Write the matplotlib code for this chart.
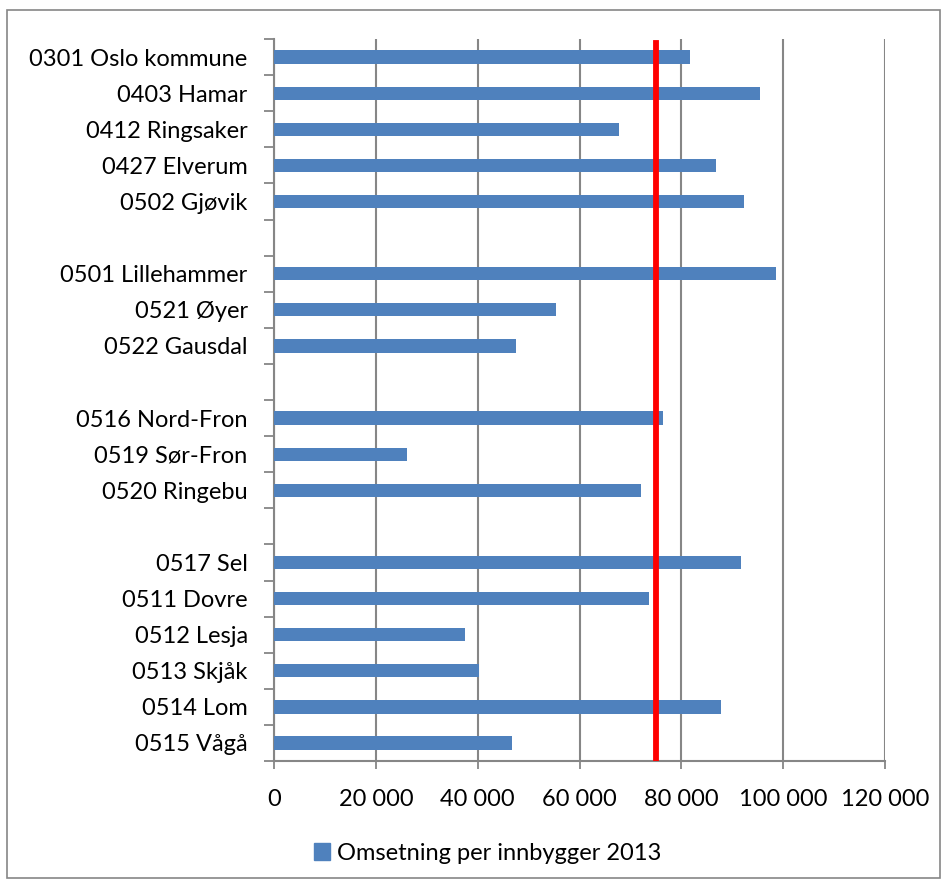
import matplotlib
matplotlib.use("Agg")
import matplotlib.pyplot as plt
import matplotlib.patches as mpatches
import numpy as np

# Kommuner (tomme navn = mellomrom mellom grupper)
kommuner = ["0301 Oslo kommune", "0403 Hamar", "0412 Ringsaker", "0427 Elverum",
            "0502 Gjøvik", "", "0501 Lillehammer", "0521 Øyer", "0522 Gausdal", "",
            "0516 Nord-Fron", "0519 Sør-Fron", "0520 Ringebu", "",
            "0517 Sel", "0511 Dovre", "0512 Lesja", "0513 Skjåk", "0514 Lom", "0515 Vågå"]
omsetning = [81700, 95500, 67800, 86800, 92300, np.nan, 98600, 55400, 47500, np.nan,
             76400, 26100, 72000, np.nan, 91700, 73600, 37500, 40300, 87700, 46800]
snitt = 75000
x_ticks = [0, 20000, 40000, 60000, 80000, 100000, 120000]
serie_navn = "Omsetning per innbygger 2013"

plt.rcParams['font.family'] = ['Lato', 'DejaVu Sans']

BAR = "#4F81BD"
GRID = "#868686"

fig = plt.figure(figsize=(9.45, 8.84), dpi=100)
ax = fig.add_axes([0.290, 0.1391, 0.6466, 0.8167])

n = len(kommuner)
ypos = np.arange(n)[::-1]
ax.barh(ypos, omsetning, height=0.37, color=BAR, zorder=3)
ax.axvline(snitt, ymin=0, ymax=0.995, color="#FF0000", lw=4.2, zorder=4)

ax.set_xlim(0, 120000)
ax.set_ylim(-0.5, n - 0.5)
ax.set_xticks(x_ticks)
ax.set_xticklabels([f"{v:,}".replace(",", " ") for v in x_ticks], fontsize=17)
ax.xaxis.grid(True, color=GRID, lw=1.5, zorder=0)

# y: tick marks at group boundaries, labels at centers
ax.set_yticks(np.arange(n + 1) - 0.5)
ax.set_yticklabels([])
ax.set_yticks(ypos, minor=True)
ax.set_yticklabels(kommuner, minor=True, fontsize=17)
ax.tick_params(axis="y", which="major", length=7, width=1.3, color=GRID, direction="out")
ax.tick_params(axis="y", which="minor", length=0, pad=19)
ax.tick_params(axis="x", length=6, width=1.3, color=GRID, direction="out", pad=14)

for s in ["top", "right"]:
    ax.spines[s].set_visible(False)
for s in ["left", "bottom"]:
    ax.spines[s].set_color(GRID)
    ax.spines[s].set_linewidth(1.5)

handle = mpatches.Patch(color=BAR, label=serie_navn)
fig.legend(handles=[handle], loc="center", bbox_to_anchor=(0.516, 0.035),
           frameon=False, fontsize=17, handlelength=0.7, handleheight=0.7,
           handletextpad=0.3)

border = mpatches.Rectangle((7 / 945, 6 / 884), 933 / 945, 868 / 884,
                            transform=fig.transFigure, fill=False,
                            edgecolor=GRID, lw=1.2)
fig.patches.append(border)

fig.savefig("out.png", dpi=100)
